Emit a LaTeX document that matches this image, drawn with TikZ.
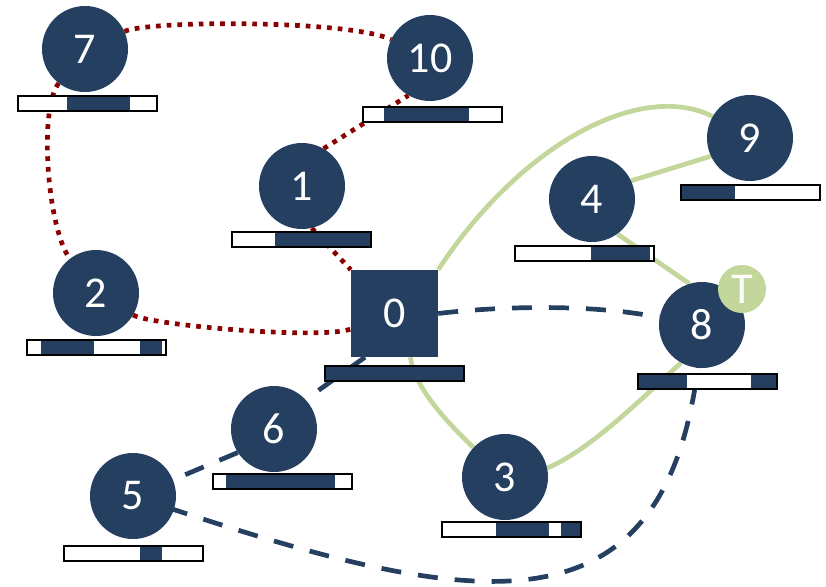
\documentclass[tikz,border=0pt]{standalone}
\usepackage{fontspec}
\setmainfont{Carlito}
\usetikzlibrary{backgrounds,calc}
\definecolor{navy}{RGB}{36,63,96}
\definecolor{dred}{RGB}{139,0,0}
\definecolor{lgreen}{RGB}{195,214,155}
\newcommand\seg[2]{\fill[navy] ([xshift=#1pt]path picture bounding box.south west) rectangle ([xshift=#2pt]path picture bounding box.north west);}
\begin{document}
\begin{tikzpicture}[x=1pt,y=-1pt,
  circ/.style={circle,fill=navy,minimum size=86pt,inner sep=0pt,text=white,font=\fontsize{44}{44}\selectfont},
  sq/.style={rectangle,fill=navy,minimum size=87pt,inner sep=0pt,text=white,font=\fontsize{44}{44}\selectfont},
  barbox/.style={draw=black,line width=2pt,fill=white,minimum width=139pt,minimum height=15pt,inner sep=0pt},
  tagc/.style={circle,fill=lgreen,minimum size=48pt,inner sep=0pt,text=white,font=\fontsize{44}{44}\selectfont},
  redline/.style={dred,line width=4.7pt,dash pattern=on 4.7pt off 6pt},
  greenline/.style={lgreen,line width=4.7pt},
  navyline/.style={navy,line width=4.7pt,dash pattern=on 20pt off 17pt}]
\useasboundingbox (0,0) rectangle (826,586);
% nodes
\node[circ] (n7) at (85,49) {7};
\node[circ] (n10) at (430,58) {10};
\node[circ] (n1) at (302,186) {1};
\node[sq] (n0) at (394.5,313.5) {0};
\node[circ] (n9) at (750,138) {9};
\node[circ] (n4) at (592,199) {4};
\node[circ] (n8) at (702,325) {8};
\node[circ] (n2) at (96,293) {2};
\node[circ] (n6) at (274,429) {6};
\node[circ] (n5) at (133,496) {5};
\node[circ] (n3) at (505,477) {3};
\node[tagc] (t8) at (742,289) {T};
% bars
\node[barbox,path picture={\seg{49}{112}}] (b7) at (87.5,103.5) {};
\node[barbox,path picture={\seg{21}{106}}] (b10) at (432.5,114) {};
\node[barbox,path picture={\seg{43}{145}}] (b1) at (301.5,239.5) {};
\node[barbox,path picture={\seg{-2}{145}}] (b0) at (394,373.5) {};
\node[barbox,path picture={\seg{-2}{54}}] (b9) at (750,192.5) {};
\node[barbox,path picture={\seg{76}{135}}] (b4) at (584.5,253) {};
\node[barbox,path picture={\seg{-2}{49}\seg{113}{145}}] (b8) at (707.5,381.5) {};
\node[barbox,path picture={\seg{14}{67}\seg{113}{135}}] (b2) at (96.5,347) {};
\node[barbox,path picture={\seg{13}{122}}] (b6) at (282,481) {};
\node[barbox,path picture={\seg{76}{98}}] (b5) at (133,553.5) {};
\node[barbox,path picture={\seg{54}{107}\seg{119}{145}}] (b3) at (511.5,529.5) {};
% edges
\begin{pgfonlayer}{background}
\draw[redline] (n7) .. controls (150,20) and (350,20) .. (n10);
\draw[redline] (n7) .. controls (38,110) and (48,230) .. (n2);
\draw[redline] (n2) .. controls (150,325) and (320,340) .. (n0);
\draw[redline] (n1.60) -- (n10.240);
\draw[redline] (n1.283) -- (n0.north west);
\draw[greenline] (n0.north east) .. controls (520,145) and (640,80) .. (n9.150);
\draw[greenline] (n4.25) -- (n9.205);
\draw[greenline] (n4.306) -- (n8.107);
\draw[greenline] (n0.-70) .. controls (415,388) and (445,420) .. (n3.137);
\draw[greenline] (n3.12) .. controls (590,450) and (640,400) .. (n8.241);
\draw[navyline] (n0.east) .. controls (510,305) and (600,305) .. (n8.170);
\draw[navyline] (n0.236) -- (n6.43);
\draw[navyline] (n6.213) -- (n5.22);
\draw[navyline] (n5.center) .. controls (473,610) and (680,658) .. (n8.center);
\end{pgfonlayer}
\end{tikzpicture}
\end{document}
